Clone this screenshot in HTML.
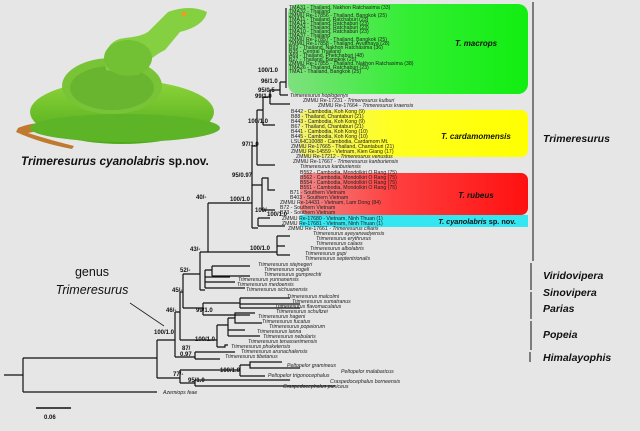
<!DOCTYPE html>
<html><head><meta charset="utf-8"><style>
html,body{margin:0;padding:0;background:#e6e6e6;}
svg{display:block}
.l{font-family:"Liberation Sans",sans-serif;font-size:5.2px;fill:#222}
.i{font-style:italic}
.b{font-family:"Liberation Sans",sans-serif;font-size:6px;font-weight:bold;fill:#111}
.c{font-family:"Liberation Sans",sans-serif;font-weight:bold;font-style:italic;fill:#111}
</style></head><body>
<svg width="640" height="431" viewBox="0 0 640 431" xmlns="http://www.w3.org/2000/svg">
<defs>
<linearGradient id="gg" x1="0" x2="1"><stop offset="0" stop-color="#7fe07f"/><stop offset="0.5" stop-color="#33ee33"/><stop offset="1" stop-color="#11ee11"/></linearGradient>
<linearGradient id="gy" x1="0" x2="1"><stop offset="0" stop-color="#f0f070"/><stop offset="0.4" stop-color="#ffff22"/><stop offset="1" stop-color="#ffff00"/></linearGradient>
<linearGradient id="gr" x1="0" x2="1"><stop offset="0" stop-color="#f08888"/><stop offset="0.4" stop-color="#ff4040"/><stop offset="1" stop-color="#ff1010"/></linearGradient>
<linearGradient id="sn" x1="0" y1="0" x2="0" y2="1"><stop offset="0" stop-color="#8ed43a"/><stop offset="1" stop-color="#4caa1a"/></linearGradient>
</defs>
<rect width="640" height="431" fill="#e6e6e6"/>
<rect x="288" y="4" width="240" height="90" rx="10" fill="url(#gg)"/>
<rect x="300" y="110" width="228" height="47" rx="7" fill="url(#gy)"/>
<rect x="300" y="173" width="228" height="42" rx="7" fill="url(#gr)"/>
<rect x="300" y="215" width="228" height="12" fill="#33e6f0"/>
<text x="476" y="46" class="c" font-size="8" text-anchor="middle">T. macrops</text>
<text x="476" y="139" class="c" font-size="8" text-anchor="middle">T. cardamomensis</text>
<text x="476" y="198" class="c" font-size="8" text-anchor="middle">T. rubeus</text>
<text x="477" y="224" class="c" font-size="7.3" text-anchor="middle">T. cyanolabris <tspan font-style="normal">sp. nov.</tspan></text>
<g stroke="#444" stroke-width="1.3">
<line x1="533" y1="2" x2="533" y2="261"/><line x1="531" y1="263" x2="531" y2="290"/><line x1="531" y1="292" x2="531" y2="319"/><line x1="531" y1="321" x2="531" y2="350"/><line x1="530" y1="352" x2="530" y2="362"/>
</g>
<text x="543" y="142" class="c" font-size="10.5">Trimeresurus</text>
<text x="543" y="279" class="c" font-size="10.5">Viridovipera</text>
<text x="543" y="296" class="c" font-size="10.5">Sinovipera</text>
<text x="543" y="312" class="c" font-size="10.5">Parias</text>
<text x="543" y="338" class="c" font-size="10.5">Popeia</text>
<text x="543" y="361" class="c" font-size="10.5">Himalayophis</text>
<!-- snake -->
<g>
<path d="M18 128 Q40 118 90 126 L88 133 Q50 128 28 133 Q50 140 74 146 L72 149 Q40 143 16 132Z" fill="#c07a30"/>
<ellipse cx="122" cy="112" rx="92" ry="32" fill="url(#sn)"/>
<ellipse cx="125" cy="128" rx="95" ry="14" fill="#5cb426"/>
<ellipse cx="112" cy="86" rx="50" ry="28" fill="#78c436"/>
<ellipse cx="112" cy="88" rx="42" ry="22" fill="#69b530"/>
<path d="M106 70 Q102 40 125 38 Q145 36 150 30 L168 12 Q190 4 207 12 Q204 26 180 32 L165 50 Q148 58 138 75 Z" fill="#85d040"/>
<ellipse cx="128" cy="58" rx="24" ry="18" fill="#72c034"/>
<circle cx="184" cy="14" r="2.5" fill="#e8a020"/>
</g>
<text x="21" y="165" class="c" font-size="11.8">Trimeresurus cyanolabris <tspan font-style="normal">sp.nov.</tspan></text>
<text x="92" y="276" font-family="Liberation Sans,sans-serif" font-size="12.5" fill="#111" text-anchor="middle">genus</text>
<text x="92" y="294" font-family="Liberation Sans,sans-serif" font-size="12.5" font-style="italic" fill="#111" text-anchor="middle">Trimeresurus</text>
<line x1="130" y1="303" x2="164" y2="326" stroke="#222" stroke-width="0.8"/>
<line x1="36" y1="408" x2="71" y2="408" stroke="#111" stroke-width="1.5"/>
<text x="44" y="419" class="b" font-size="8">0.06</text>
<g stroke="#111" stroke-width="1.2" fill="none">
<path d="M4 375H23M23 358V392M23 358H157M23 392H157M157 340V378"/>
<path d="M157 378H180M180 370V383M180 370H240M240 365V376M240 365H250V362H282M250 365V368H300M240 376H265M180 383H195M195 380V386M195 380H290M195 386H335"/>
<path d="M157 340H175M175 312V357M175 357H195M195 352V359M195 352H235M195 359H220"/>
<path d="M175 312H180M180 292V340M180 340H217M217 325V347M217 347H225V345H228M217 325H228M228 318V336M228 318H235V313H255M235 318V323H262M228 330H245M228 336H260"/>
<path d="M180 292H183M183 274V308M183 308H203M203 303V315M203 315H250M203 303H240M240 298V308M240 298H290M240 304H300M240 308H300"/>
<path d="M183 274H200M200 252V290M200 290H205M205 270V288M205 288H245M205 282H235M205 277H230M205 270H212M212 266V276M212 266H250M212 276H250"/>
<path d="M200 252H208M208 203V252M208 252H277M277 236V255M277 236H290M277 246H285M277 255H290"/>
<path d="M208 203H252M252 146V228M252 228H258M258 218V226M258 218H270M258 226H285"/>
<path d="M252 185H262M262 178V210M262 178H268V190H275M262 210H275"/>
<path d="M252 146H257M257 110V165M257 165H275M257 110H263M263 97V125M263 125H275M263 97H270M270 90V104M270 104H290M270 90H280M280 82V95M280 95H288M280 82H286M286 8V88"/>
</g>
<g class="b">
<text x="258" y="72">100/1.0</text><text x="261" y="83">96/1.0</text><text x="258" y="92">95/0.5</text><text x="255" y="98">99/1.0</text>
<text x="248" y="123">100/1.0</text><text x="242" y="146">97/1.0</text><text x="232" y="177">95/0.97</text>
<text x="230" y="201">100/1.0</text><text x="255" y="212">100/</text><text x="267" y="216">100/1.0</text>
<text x="196" y="199">40/-</text><text x="190" y="251">43/-</text><text x="180" y="272">52/-</text><text x="172" y="292">45/-</text>
<text x="166" y="312">46/-</text><text x="154" y="334">100/1.0</text><text x="250" y="250">100/1.0</text>
<text x="196" y="312">99/1.0</text><text x="195" y="341">100/1.0</text><text x="182" y="350">87/</text><text x="180" y="356">0.97</text>
<text x="173" y="376">77/-</text><text x="220" y="372">100/1.0</text><text x="188" y="382">95/1.0</text>
</g>
<g class="l">
<text x="289" y="9">TMA31 - Thailand, Nakhon Ratchasima (33)</text>
<text x="289" y="13">TMA32 - Thailand</text>
<text x="289" y="17">ZMMU Re-17856 - Thailand, Bangkok (25)</text>
<text x="289" y="21">TMA11 - Thailand, Ratchaburi (23)</text>
<text x="289" y="25">TMA14 - Thailand, Ratchaburi (23)</text>
<text x="289" y="29">TMA24 - Thailand, Ratchaburi (23)</text>
<text x="289" y="33">TMA10 - Thailand, Ratchaburi (23)</text>
<text x="289" y="37">TMA37 - Thailand</text>
<text x="289" y="41">ZMMU Re-17857 - Thailand, Bangkok (25)</text>
<text x="289" y="45">ZMMU Re-17858 - Thailand, Ayutthaya (28)</text>
<text x="289" y="49">B93 - Thailand, Nakhon Ratchasima (36)</text>
<text x="289" y="53">B35 - Central Thailand</text>
<text x="289" y="57">A69 - Thailand, Phetchaburi (48)</text>
<text x="289" y="61">B27 - Thailand, Bangkok (25)</text>
<text x="289" y="65">ZMMU Re-17855 - Thailand, Nakhon Ratchasima (38)</text>
<text x="289" y="69">TMA26 - Thailand, Ratchaburi (23)</text>
<text x="289" y="73">TMA1 - Thailand, Bangkok (25)</text>
<text x="290" y="97" class="i">Trimeresurus hoplogenys</text>
<text x="303" y="102">ZMMU Re-17231 - <tspan class="i">Trimeresurus kuiburi</tspan></text>
<text x="318" y="107">ZMMU Re-17664 - <tspan class="i">Trimeresurus kraensis</tspan></text>
<text x="291" y="113">B442 - Cambodia, Koh Kong (9)</text>
<text x="291" y="118">B88 - Thailand, Chantaburi (21)</text>
<text x="291" y="123">B443 - Cambodia, Koh Kong (9)</text>
<text x="291" y="128">B67 - Thailand, Chantaburi (21)</text>
<text x="291" y="133">B441 - Cambodia, Koh Kong (10)</text>
<text x="291" y="138">B445 - Cambodia, Koh Kong (10)</text>
<text x="291" y="143">LSUHC10088 - Cambodia, Cardamom Mt.</text>
<text x="291" y="148">ZMMU Re-17665 - Thailand, Chantaburi (21)</text>
<text x="291" y="153">ZMMU Re-14559 - Vietnam, Kien Giang (17)</text>
<text x="296" y="158">ZMMU Re-17212 - <tspan class="i">Trimeresurus venustus</tspan></text>
<text x="293" y="163">ZMMU Re-17667 - <tspan class="i">Trimeresurus kanburiensis</tspan></text>
<text x="300" y="168" class="i">Trimeresurus kanburiensis</text>
<text x="300" y="174">B552 - Cambodia, Mondolkiri O Rang (75)</text>
<text x="300" y="179">B562 - Cambodia, Mondolkiri O Rang (75)</text>
<text x="300" y="184">B554 - Cambodia, Mondolkiri O Rang (75)</text>
<text x="300" y="189">B551 - Cambodia, Mondolkiri O Rang (75)</text>
<text x="290" y="194">B71 - Southern Vietnam</text>
<text x="290" y="199">B403 - Southern Vietnam</text>
<text x="280" y="204">ZMMU Re-14431 - Vietnam, Lam Dong (84)</text>
<text x="280" y="209">B72 - Southern Vietnam</text>
<text x="280" y="214">B73 - Southern Vietnam</text>
<text x="282" y="220">ZMMU Re-17680 - Vietnam, Ninh Thuan (1)</text>
<text x="282" y="225">ZMMU Re-17681 - Vietnam, Ninh Thuan (1)</text>
<text x="288" y="230">ZMMU Re-17661 - <tspan class="i">Trimeresurus ciliaris</tspan></text>
</g>
<g class="l i">
<text x="313" y="235">Trimeresurus ayeyarwadyensis</text>
<text x="316" y="240">Trimeresurus erythrurus</text>
<text x="316" y="245">Trimeresurus calaos</text>
<text x="310" y="250">Trimeresurus albolabris</text>
<text x="305" y="255">Trimeresurus gupi</text>
<text x="305" y="260">Trimeresurus septentrionalis</text>
<text x="258" y="266">Trimeresurus stejnegeri</text>
<text x="264" y="271">Trimeresurus vogeli</text>
<text x="264" y="276">Trimeresurus gumprechti</text>
<text x="238" y="281">Trimeresurus yunnanensis</text>
<text x="237" y="286">Trimeresurus medoensis</text>
<text x="246" y="291">Trimeresurus sichuanensis</text>
<text x="287" y="298">Trimeresurus malcolmi</text>
<text x="292" y="303">Trimeresurus sumatranus</text>
<text x="275" y="308">Trimeresurus flavomaculatus</text>
<text x="276" y="313">Trimeresurus schultzei</text>
<text x="258" y="318">Trimeresurus hageni</text>
<text x="262" y="323">Trimeresurus fucatus</text>
<text x="269" y="328">Trimeresurus popeiorum</text>
<text x="257" y="333">Trimeresurus lanna</text>
<text x="263" y="338">Trimeresurus nebularis</text>
<text x="248" y="343">Trimeresurus tenasserimensis</text>
<text x="231" y="348">Trimeresurus phuketensis</text>
<text x="241" y="353">Trimeresurus arunachalensis</text>
<text x="225" y="358">Trimeresurus tibetanus</text>
<text x="287" y="367">Peltopelor gramineus</text>
<text x="341" y="373">Peltopelor malabaricus</text>
<text x="268" y="377">Peltopelor trigonocephalus</text>
<text x="330" y="383">Craspedocephalus borneensis</text>
<text x="283" y="388">Craspedocephalus puniceus</text>
<text x="163" y="394">Azemiops feae</text>
</g>
</svg>
</body></html>
